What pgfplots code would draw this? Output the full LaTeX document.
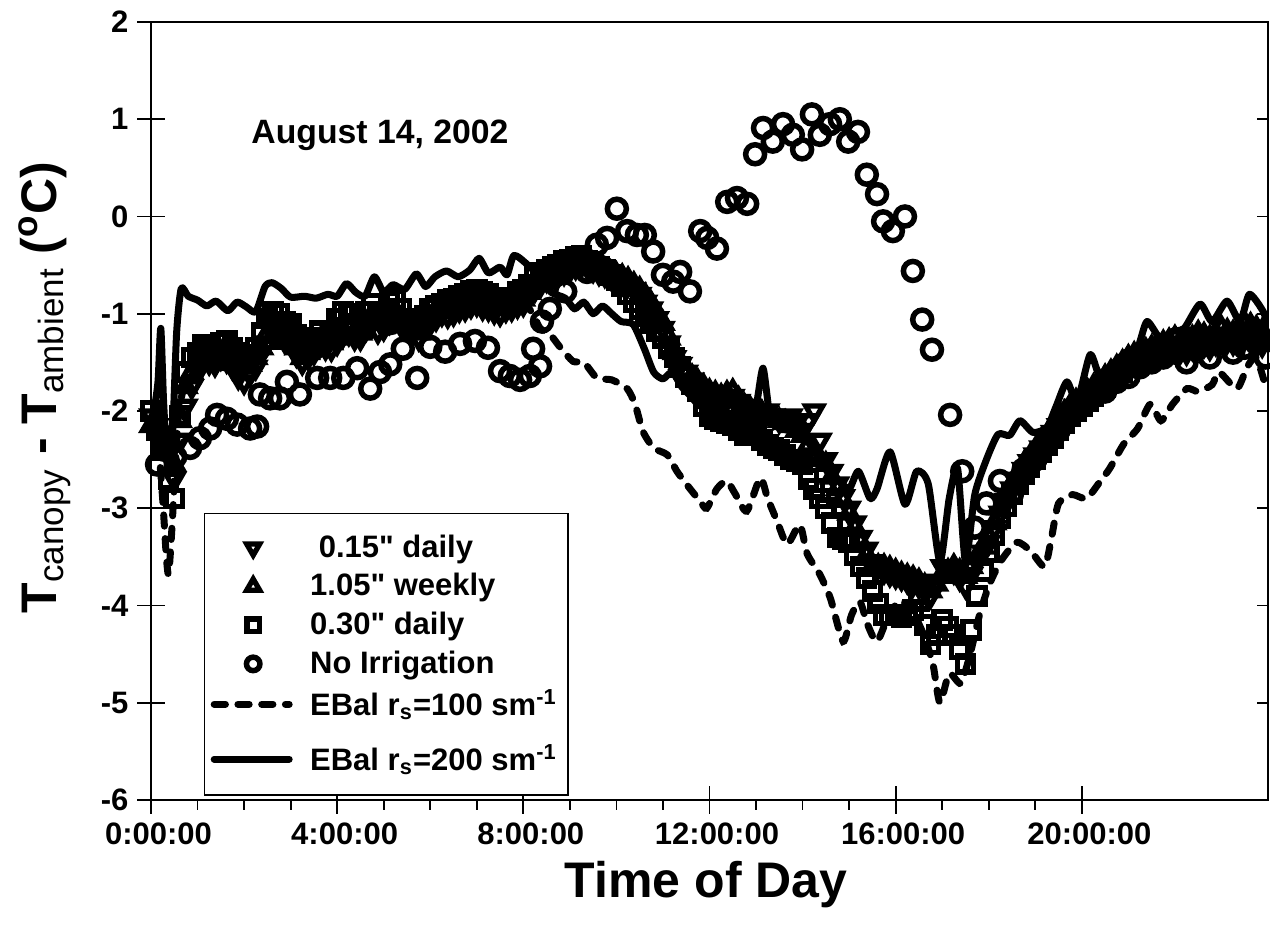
\documentclass[border=0pt]{standalone}
\usepackage{fontspec}
\setmainfont{Liberation Sans}[Ligatures=TeXOff]
\usepackage{pgfplots}
\usepackage{pgfplotstable}
\pgfplotsset{compat=1.18}

\pgfplotsset{
  markleg/.style={legend image code/.code={\draw[##1, mark size=#1] plot coordinates {(0pt,0pt)};}},
  lineleg/.style={legend image code/.code={\draw[##1] (-15.6pt,0pt) -- (14.4pt,0pt);}},
  linelegdeep/.style={legend image code/.code={\draw[##1] (-15.6pt,0pt) -- (14.4pt,0pt);
    \path[draw=none, fill=none] (0pt,-13pt) -- (0pt,0pt);}},
}

% measured plots: 0.15" daily (td), 1.05" weekly (tu), 0.30" daily (sq)
\pgfplotstableread{
t td tu sq
0.000 -2.05 -2.15 -2.00
0.125 -2.15 -2.10 -2.20
0.250 -2.30 -2.20 -2.40
0.375 -2.45 -2.35 -2.70
0.500 -2.70 -2.55 -2.90
0.625 -2.30 -2.10 -2.05
0.750 -1.95 -1.75 -1.60
0.875 -1.75 -1.60 -1.45
1.000 -1.60 -1.50 -1.40
1.125 -1.50 -1.42 -1.32
1.250 -1.50 -1.45 -1.35
1.375 -1.52 -1.48 -1.40
1.500 -1.45 -1.40 -1.30
1.625 -1.48 -1.38 -1.28
1.750 -1.55 -1.45 -1.35
1.875 -1.65 -1.50 -1.40
2.000 -1.70 -1.55 -1.45
2.125 -1.62 -1.52 -1.42
2.250 -1.55 -1.45 -1.35
2.375 -1.40 -1.35 -1.20
2.500 -1.30 -1.20 -1.05
2.625 -1.22 -1.12 -0.98
2.750 -1.20 -1.15 -1.00
2.875 -1.28 -1.22 -1.08
3.000 -1.30 -1.25 -1.10
3.125 -1.42 -1.35 -1.22
3.250 -1.50 -1.45 -1.35
3.375 -1.45 -1.40 -1.30
3.500 -1.40 -1.35 -1.25
3.625 -1.32 -1.28 -1.18
3.750 -1.35 -1.30 -1.25
3.875 -1.36 -1.30 -1.20
4.000 -1.30 -1.25 -1.05
4.125 -1.22 -1.18 -0.98
4.250 -1.20 -1.15 -1.00
4.375 -1.25 -1.20 -1.10
4.500 -1.25 -1.20 -1.15
4.625 -1.15 -1.10 -0.98
4.750 -1.10 -1.05 -0.90
4.875 -1.18 -1.10 -0.98
5.000 -1.15 -1.10 -1.00
5.125 -1.08 -1.02 -0.88
5.250 -1.05 -1.00 -0.85
5.375 -1.12 -1.05 -0.95
5.500 -1.15 -1.10 -1.05
5.625 -1.20 -1.15 -1.10
5.750 -1.25 -1.20 -1.15
5.875 -1.15 -1.10 -1.02
6.000 -1.10 -1.05 -0.95
6.125 -1.05 -0.98 -0.92
6.250 -1.00 -0.95 -0.90
6.375 -1.02 -0.96 -0.86
6.500 -1.00 -0.95 -0.85
6.625 -0.96 -0.92 -0.82
6.750 -0.95 -0.90 -0.80
6.875 -0.92 -0.86 -0.76
7.000 -0.90 -0.85 -0.75
7.125 -0.94 -0.88 -0.78
7.250 -0.95 -0.90 -0.80
7.375 -0.98 -0.92 -0.86
7.500 -1.00 -0.95 -0.85
7.625 -0.96 -0.92 -0.84
7.750 -0.95 -0.90 -0.85
7.875 -0.92 -0.88 -0.78
8.000 -0.90 -0.85 -0.75
8.125 -0.82 -0.78 -0.70
8.250 -0.75 -0.70 -0.60
8.375 -0.70 -0.65 -0.58
8.500 -0.65 -0.60 -0.55
8.625 -0.62 -0.58 -0.52
8.750 -0.60 -0.55 -0.50
8.875 -0.58 -0.52 -0.46
9.000 -0.55 -0.50 -0.45
9.125 -0.52 -0.48 -0.42
9.250 -0.50 -0.45 -0.40
9.375 -0.52 -0.48 -0.46
9.500 -0.55 -0.50 -0.50
9.625 -0.58 -0.52 -0.52
9.750 -0.60 -0.55 -0.55
9.875 -0.62 -0.58 -0.60
10.000 -0.65 -0.60 -0.65
10.125 -0.68 -0.62 -0.72
10.250 -0.70 -0.65 -0.80
10.375 -0.75 -0.70 -0.88
10.500 -0.80 -0.75 -0.95
10.625 -0.88 -0.82 -1.02
10.750 -0.95 -0.90 -1.10
10.875 -1.05 -1.00 -1.18
11.000 -1.15 -1.10 -1.25
11.125 -1.30 -1.25 -1.35
11.250 -1.45 -1.40 -1.45
11.375 -1.52 -1.50 -1.55
11.500 -1.60 -1.60 -1.65
11.625 -1.68 -1.65 -1.72
11.750 -1.75 -1.70 -1.80
11.875 -1.80 -1.75 -1.95
12.000 -1.85 -1.80 -2.05
12.125 -1.88 -1.82 -2.08
12.250 -1.90 -1.85 -2.10
12.375 -1.88 -1.82 -2.12
12.500 -1.85 -1.80 -2.15
12.625 -1.90 -1.88 -2.20
12.750 -1.95 -1.95 -2.25
12.875 -2.00 -1.98 -2.22
13.000 -2.05 -2.00 -2.25
13.125 -2.02 -2.02 -2.30
13.250 -2.00 -2.05 -2.35
13.375 -2.05 -2.08 -2.38
13.500 -2.10 -2.10 -2.40
13.625 -2.08 -2.12 -2.45
13.750 -2.05 -2.15 -2.50
13.875 -2.12 -2.20 -2.52
14.000 -2.20 -2.25 -2.55
14.125 -2.10 -2.35 -2.70
14.250 -2.00 -2.45 -2.80
14.375 -2.30 -2.50 -2.90
14.500 -2.50 -2.55 -3.00
14.625 -2.62 -2.68 -3.15
14.750 -2.75 -2.80 -3.30
14.875 -2.88 -2.92 -3.32
15.000 -3.00 -3.05 -3.35
15.125 -3.15 -3.20 -3.48
15.250 -3.30 -3.35 -3.60
15.375 -3.42 -3.48 -3.72
15.500 -3.55 -3.60 -3.85
15.625 -3.60 -3.60 -3.98
15.750 -3.65 -3.60 -4.10
15.875 -3.68 -3.62 -4.10
16.000 -3.70 -3.65 -4.10
16.125 -3.72 -3.68 -4.12
16.250 -3.75 -3.70 -4.10
16.375 -3.78 -3.72 -4.05
16.500 -3.80 -3.75 -3.95
16.625 -3.85 -3.80 -4.20
16.750 -3.90 -3.85 -4.40
16.875 -3.75 -3.78 -4.30
17.000 -3.60 -3.70 -4.15
17.125 -3.62 -3.65 -4.22
17.250 -3.65 -3.60 -4.30
17.375 -3.72 -3.65 -4.45
17.500 -3.80 -3.70 -4.60
17.625 -3.68 -3.60 -4.25
17.750 -3.55 -3.50 -3.90
17.875 -3.45 -3.40 -3.65
18.000 -3.35 -3.30 -3.45
18.125 -3.20 -3.15 -3.28
18.250 -3.05 -3.00 -3.10
18.375 -2.92 -2.88 -2.98
18.500 -2.80 -2.75 -2.85
18.625 -2.70 -2.65 -2.75
18.750 -2.60 -2.55 -2.65
18.875 -2.52 -2.48 -2.58
19.000 -2.45 -2.40 -2.50
19.125 -2.38 -2.32 -2.42
19.250 -2.30 -2.25 -2.35
19.375 -2.22 -2.18 -2.28
19.500 -2.15 -2.10 -2.20
19.625 -2.08 -2.02 -2.12
19.750 -2.00 -1.95 -2.05
19.875 -1.95 -1.90 -2.00
20.000 -1.90 -1.85 -1.95
20.125 -1.85 -1.80 -1.90
20.250 -1.80 -1.75 -1.85
20.375 -1.75 -1.70 -1.80
20.500 -1.70 -1.65 -1.75
20.625 -1.68 -1.60 -1.70
20.750 -1.65 -1.55 -1.65
20.875 -1.60 -1.50 -1.60
21.000 -1.55 -1.45 -1.55
21.125 -1.52 -1.42 -1.52
21.250 -1.50 -1.40 -1.50
21.375 -1.48 -1.38 -1.48
21.500 -1.45 -1.35 -1.45
21.625 -1.42 -1.32 -1.42
21.750 -1.40 -1.30 -1.40
21.875 -1.38 -1.28 -1.38
22.000 -1.35 -1.25 -1.35
22.125 -1.38 -1.28 -1.35
22.250 -1.40 -1.30 -1.35
22.375 -1.35 -1.25 -1.30
22.500 -1.30 -1.20 -1.25
22.625 -1.32 -1.22 -1.28
22.750 -1.35 -1.25 -1.30
22.875 -1.30 -1.20 -1.28
23.000 -1.25 -1.15 -1.25
23.125 -1.28 -1.18 -1.25
23.250 -1.30 -1.20 -1.25
23.375 -1.28 -1.15 -1.22
23.500 -1.25 -1.10 -1.20
23.625 -1.28 -1.12 -1.22
23.750 -1.30 -1.15 -1.25
23.875 -1.32 -1.18 -1.28
}\measured

% no irrigation
\pgfplotstableread{
t y
0.13 -2.55
0.30 -2.40
0.52 -2.47
0.84 -2.38
1.05 -2.28
1.27 -2.18
1.42 -2.04
1.63 -2.08
1.85 -2.14
2.13 -2.18
2.28 -2.16
2.34 -1.83
2.56 -1.87
2.77 -1.87
2.92 -1.70
3.20 -1.83
3.57 -1.66
3.85 -1.66
4.13 -1.66
4.43 -1.56
4.71 -1.77
4.92 -1.60
5.14 -1.52
5.41 -1.36
5.72 -1.66
6.00 -1.34
6.32 -1.39
6.64 -1.31
6.96 -1.28
7.24 -1.35
7.50 -1.59
7.71 -1.64
7.93 -1.68
8.14 -1.64
8.36 -1.54
8.21 -1.36
8.40 -1.08
8.57 -0.95
8.90 -0.77
9.15 -0.46
9.37 -0.57
9.58 -0.29
9.80 -0.22
10.01 0.08
10.23 -0.15
10.44 -0.19
10.61 -0.19
10.79 -0.36
11.00 -0.60
11.22 -0.67
11.37 -0.57
11.58 -0.77
11.80 -0.15
11.95 -0.22
12.16 -0.33
12.38 0.15
12.59 0.19
12.81 0.13
12.98 0.64
13.15 0.91
13.36 0.77
13.58 0.95
13.79 0.84
13.99 0.69
14.20 1.05
14.37 0.84
14.59 0.95
14.80 1.00
14.98 0.77
15.19 0.87
15.38 0.43
15.60 0.23
15.73 -0.05
15.94 -0.15
16.20 0.00
16.37 -0.56
16.57 -1.06
16.78 -1.37
17.17 -2.04
17.43 -2.62
17.70 -3.20
17.95 -2.95
18.24 -2.72
18.50 -2.85
18.75 -2.60
19.00 -2.50
19.25 -2.30
19.50 -2.20
19.75 -2.00
20.00 -1.95
20.25 -1.85
20.50 -1.80
20.75 -1.70
21.00 -1.65
21.25 -1.55
21.50 -1.50
21.75 -1.45
22.00 -1.40
22.25 -1.50
22.50 -1.35
22.75 -1.45
23.00 -1.30
23.25 -1.40
23.50 -1.35
23.75 -1.30
23.95 -1.45
}\noirr

% energy balance, rs = 100
\pgfplotstableread{
t y
0.05 -2.10
0.15 -2.30
0.25 -2.90
0.33 -3.50
0.38 -3.68
0.45 -3.20
0.52 -2.60
0.60 -2.00
0.75 -1.70
1.00 -1.60
1.50 -1.55
2.00 -1.60
2.50 -1.35
3.00 -1.35
3.50 -1.45
4.00 -1.30
4.50 -1.25
5.00 -1.20
5.50 -1.15
6.00 -1.10
6.50 -1.05
7.00 -0.95
7.50 -0.95
8.00 -0.90
8.20 -1.00
8.36 -1.15
8.57 -1.21
8.80 -1.35
9.07 -1.49
9.30 -1.50
9.58 -1.66
9.90 -1.68
10.23 -1.77
10.40 -1.93
10.57 -2.21
10.80 -2.38
11.09 -2.45
11.30 -2.62
11.50 -2.75
11.80 -2.93
11.94 -3.00
12.16 -2.80
12.37 -2.72
12.55 -2.85
12.80 -3.03
13.09 -2.69
13.25 -2.90
13.45 -3.13
13.67 -3.37
13.94 -3.17
14.10 -3.47
14.37 -3.68
14.60 -3.93
14.87 -4.37
15.05 -4.10
15.23 -3.96
15.40 -4.20
15.60 -4.37
15.85 -4.10
16.10 -3.95
16.35 -4.05
16.60 -4.30
16.80 -4.60
16.95 -5.00
17.15 -4.70
17.40 -4.80
17.60 -4.50
17.80 -4.10
18.00 -3.80
18.25 -3.55
18.60 -3.35
18.90 -3.44
19.20 -3.60
19.35 -3.30
19.50 -2.95
19.80 -2.86
20.10 -2.90
20.40 -2.72
20.60 -2.59
20.90 -2.34
21.20 -2.18
21.47 -1.93
21.70 -2.10
21.95 -1.93
22.26 -1.77
22.50 -1.80
22.80 -1.73
22.95 -1.60
23.33 -1.77
23.55 -1.55
23.75 -1.45
23.98 -1.80
}\ebalA

% energy balance, rs = 200
\pgfplotstableread{
t y
0.05 -2.05
0.15 -1.70
0.21 -1.15
0.27 -1.90
0.35 -2.50
0.45 -2.40
0.55 -1.20
0.65 -0.74
0.80 -0.82
1.00 -0.86
1.20 -0.92
1.40 -0.87
1.65 -0.97
1.85 -0.88
2.05 -0.93
2.25 -0.98
2.45 -0.72
2.60 -0.68
2.80 -0.74
3.00 -0.83
3.30 -0.82
3.55 -0.84
3.80 -0.80
4.00 -0.82
4.20 -0.69
4.40 -0.78
4.60 -0.82
4.80 -0.62
5.00 -0.78
5.20 -0.70
5.45 -0.75
5.70 -0.59
5.90 -0.72
6.10 -0.62
6.35 -0.56
6.60 -0.62
6.85 -0.55
7.05 -0.43
7.25 -0.58
7.50 -0.52
7.65 -0.60
7.80 -0.40
8.10 -0.50
8.40 -0.65
8.60 -0.78
8.90 -0.84
9.10 -0.95
9.30 -0.88
9.50 -1.00
9.70 -0.92
9.90 -1.00
10.10 -1.08
10.36 -1.11
10.60 -1.36
10.80 -1.60
11.00 -1.67
11.20 -1.60
11.40 -1.75
11.60 -1.85
11.80 -1.95
12.00 -1.88
12.20 -2.00
12.40 -1.85
12.60 -2.05
12.80 -2.10
13.00 -1.95
13.15 -1.56
13.30 -2.05
13.50 -2.10
13.70 -2.18
13.90 -2.10
14.10 -2.30
14.30 -2.45
14.50 -2.55
14.75 -2.70
15.00 -2.80
15.20 -2.62
15.45 -2.90
15.60 -2.80
15.88 -2.42
16.20 -2.96
16.45 -2.62
16.70 -2.75
16.95 -3.55
17.15 -2.90
17.33 -2.59
17.50 -3.55
17.70 -2.86
17.95 -2.50
18.20 -2.24
18.45 -2.25
18.67 -2.10
18.95 -2.22
19.25 -2.17
19.45 -1.95
19.68 -1.70
19.90 -1.90
20.18 -1.42
20.40 -1.66
20.70 -1.50
20.97 -1.39
21.20 -1.35
21.40 -1.08
21.68 -1.25
21.95 -1.18
22.20 -1.15
22.54 -0.90
22.80 -1.08
23.12 -0.87
23.40 -1.08
23.60 -0.80
23.90 -0.98
24.00 -1.15
}\ebalB

\newcommand\tlfont{\fontsize{12.4}{14}\selectfont\bfseries}

\begin{document}
\begin{tikzpicture}
\begin{axis}[
  scale only axis,
  width=446.8pt, height=311.2pt,
  xmin=0, xmax=24, ymin=-6, ymax=2,
  axis line style={line width=0.7pt},
  xtick={0,4,8,12,16,20},
  xticklabels={0:00:00,4:00:00,8:00:00,12:00:00,16:00:00,20:00:00},
  minor x tick num=3,
  ytick={-6,-5,-4,-3,-2,-1,0,1,2},
  yticklabels={-6,-5,-4,-3,-2,-1,0,1,2},
  xtick pos=bottom, ytick pos=left,
  tick align=center,
  major tick length=11pt,
  minor tick length=4pt,
  every minor x tick/.append style={yshift=-2pt},
  tick style={black, line width=0.7pt},
  tick label style={font=\tlfont},
  xticklabel style={xshift=3pt},
  xlabel={Time of Day},
  ylabel={T\textsubscript{\mdseries canopy} - T\textsubscript{\mdseries ambient} (\textsuperscript{o}C)},
  label style={font=\fontsize{20}{24}\selectfont\bfseries},
  xlabel style={at={(axis description cs:0.497,-0.109)}, anchor=center},
  ylabel style={at={(axis description cs:-0.095,0.53)}, anchor=center},
  legend style={at={(axis description cs:0.0474,0.369)}, anchor=north west,
    draw=black, line width=0.6pt, font=\tlfont, row sep=1pt, column sep=5pt,
    inner xsep=2.4pt, inner ysep=6.4pt},
  legend cell align=left,
  clip=true,
]
\addplot[only marks, mark=triangle, mark size=3.9pt,
  mark options={rotate=180, line width=2.1pt, black}, markleg=3pt]
  table[x=t, y=td] {\measured};
\addlegendentry{\ 0.15" daily}
\addplot[only marks, mark=triangle, mark size=3.9pt,
  mark options={line width=2.1pt, black}, markleg=3pt]
  table[x=t, y=tu] {\measured};
\addlegendentry{1.05" weekly}
\addplot[only marks, mark=square, mark size=3.3pt,
  mark options={line width=2.1pt, black}, markleg=2.5pt]
  table[x=t, y=sq] {\measured};
\addlegendentry{0.30" daily}
\addplot[only marks, mark=o, mark size=3.8pt,
  mark options={line width=2.2pt, black}, markleg=2.7pt]
  table[x=t, y=y] {\noirr};
\addlegendentry{No Irrigation}
\addplot[black, line width=2.8pt, line cap=round, dash pattern=on 4.5pt off 5pt,
  smooth, tension=0.4, linelegdeep]
  table[x=t, y=y] {\ebalA};
\addlegendentry{EBal r\textsubscript{s}=100 sm\textsuperscript{-1}}
\addplot[black, line width=2.8pt, line cap=round, line join=round,
  smooth, tension=0.4, lineleg]
  table[x=t, y=y] {\ebalB};
\addlegendentry{EBal r\textsubscript{s}=200 sm\textsuperscript{-1}}
\node[font=\fontsize{13.5}{16}\selectfont\bfseries] at (axis cs:4.92,0.84) {August 14, 2002};
\coordinate (bl) at (rel axis cs:-0.1352,-0.1761);
\coordinate (tr) at (rel axis cs:1.0018,1.0283);
\end{axis}
% inward ticks on the right-hand side
\begin{axis}[
  scale only axis,
  width=446.8pt, height=311.2pt,
  xmin=0, xmax=24, ymin=-6, ymax=2,
  hide x axis, axis y line*=right,
  axis line style={line width=0.7pt},
  ytick={-6,-5,-4,-3,-2,-1,0,1,2}, yticklabels={},
  tick align=inside, major tick length=4.5pt,
  tick style={black, line width=0.7pt},
]
\end{axis}
\pgfresetboundingbox
\path[use as bounding box] (bl) rectangle (tr);
\end{tikzpicture}
\end{document}
